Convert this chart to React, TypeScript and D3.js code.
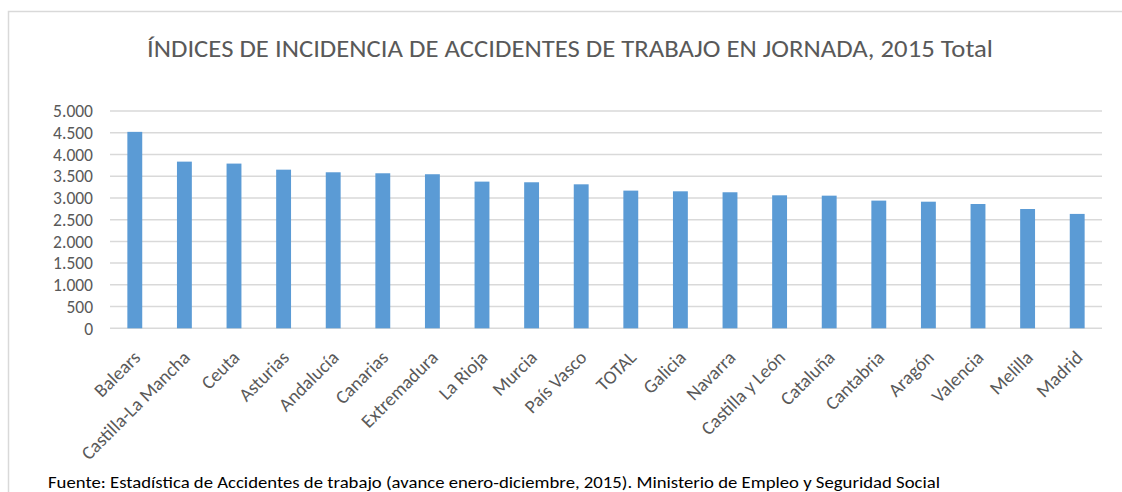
import React from 'react';
import * as d3 from 'd3';

const categories = [
  'Balears', 'Castilla-La Mancha', 'Ceuta', 'Asturias', 'Andalucía', 'Canarias',
  'Extremadura', 'La Rioja', 'Murcia', 'País Vasco', 'TOTAL', 'Galicia', 'Navarra',
  'Castilla y León', 'Cataluña', 'Cantabria', 'Aragón', 'Valencia', 'Melilla', 'Madrid',
];
const values = [
  4520, 3835, 3790, 3650, 3590, 3567, 3545, 3375, 3360, 3313, 3168, 3152, 3130,
  3060, 3052, 2938, 2913, 2860, 2745, 2632,
];
const yTicks = [0, 500, 1000, 1500, 2000, 2500, 3000, 3500, 4000, 4500, 5000];

const title = 'ÍNDICES DE INCIDENCIA DE ACCIDENTES DE TRABAJO EN JORNADA, 2015 Total';
const source = 'Fuente: Estadística de Accidentes de trabajo (avance enero-diciembre, 2015). Ministerio de Empleo y Seguridad Social';

const W = 1122;
const H = 492;
const font = "Carlito, Calibri, 'Open Sans', sans-serif";

const App = () => {
  const x = d3.scaleBand().domain(categories).range([110, 1102]).paddingInner(0.7).paddingOuter(0.35);
  const y = d3.scaleLinear().domain([0, 5000]).range([328.3, 111]);
  const fmt = (v: number) => d3.format(',')(v).replace(/,/g, '.');

  return (
    <svg width={W} height={H} style={{ position: 'absolute', left: 0, top: 0 }}>
      <rect x={0} y={0} width={W} height={H} fill="#fff" />
      {/* chart frame, right and bottom edges fall outside the picture */}
      <rect x={8.5} y={11.5} width={W + 10} height={H + 10} fill="none" stroke="#d9d9d9" strokeWidth={1.5} />
      <text x={570} y={57} textAnchor="middle" fontFamily={font} fontSize={24} fill="#595959"
        textLength={846} lengthAdjust="spacingAndGlyphs">{title}</text>

      {yTicks.map(t => (
        <g key={t}>
          <line x1={110} x2={1102} y1={y(t)} y2={y(t)} stroke="#d9d9d9" strokeWidth={1.5} />
          <text x={93} y={y(t)} dy="0.36em" textAnchor="end" fontFamily={font} fontSize={17.5} fill="#595959">{fmt(t)}</text>
        </g>
      ))}

      {categories.map((c, i) => (
        <rect key={c} x={x(c)} y={y(values[i])} width={x.bandwidth()} height={y(0) - y(values[i])} fill="#5b9bd5" />
      ))}

      {categories.map(c => {
        const cx = (x(c) as number) + x.bandwidth() / 2 + 2;
        const cy = 354;
        return (
          <text key={c} x={cx} y={cy} dy="0.35em" textAnchor="end" transform={`rotate(-45 ${cx} ${cy})`}
            fontFamily={font} fontSize={19} fill="#595959">{c}</text>
        );
      })}

      <text x={48} y={488} fontFamily={font} fontSize={16.5} fill="#000"
        textLength={892} lengthAdjust="spacingAndGlyphs">{source}</text>
    </svg>
  );
};

export default App;
